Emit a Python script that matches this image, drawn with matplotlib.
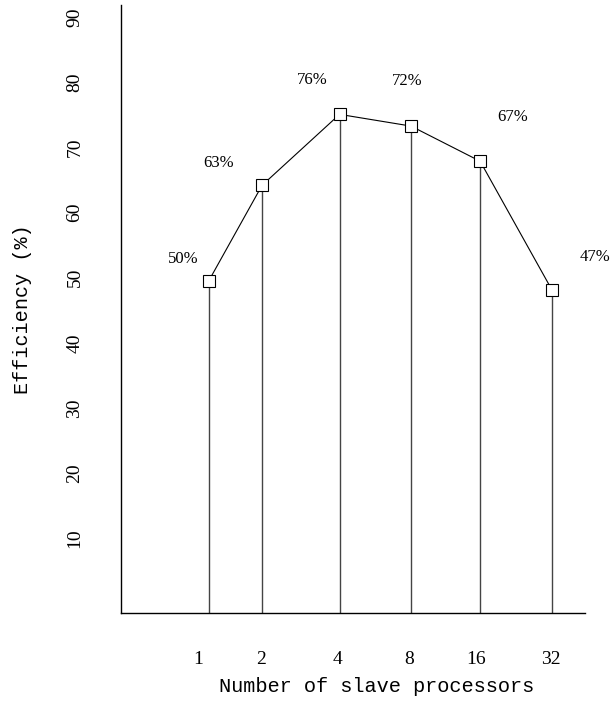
import matplotlib
matplotlib.use('Agg')
import matplotlib.pyplot as plt

# data
processors = ['1', '2', '4', '8', '16', '32']
efficiency = [49.5, 64.2, 75.1, 73.3, 67.9, 48.1]
labels = ['50%', '63%', '76%', '72%', '67%', '47%']

# layout: where each category sits along the x axis (axis runs 0..10)
xpos = [1.89, 3.04, 4.71, 6.25, 7.74, 9.29]
# small nudges of the category labels, in pixels
tick_dx = [-11, -1, -2, -2, -4, -1]
# offsets of the percentage labels from each point, in pixels
label_dx = [-25, -43, -27, -4, 32, 43]
label_dy = [22, 22, 34, 45, 44, 33]

serif = 'Liberation Serif'
mono = 'Liberation Mono'

fig = plt.figure(figsize=(6.1, 7.08), dpi=100)
ax = fig.add_axes([121 / 610, 95 / 708, 464 / 610, 608 / 708])

ymin, ymax = -1.5, 91.9
ax.vlines(xpos, ymin, efficiency, colors='#444444', linewidth=1.0, zorder=1)
ax.plot(xpos, efficiency, color='black', linewidth=0.8, marker='s',
        markersize=8, markerfacecolor='white', markeredgecolor='black',
        markeredgewidth=0.8, zorder=3)

for x, y, t, dx, dy in zip(xpos, efficiency, labels, label_dx, label_dy):
    ax.annotate(t, (x, y), xytext=(dx * 0.72, dy * 0.72),
                textcoords='offset points', ha='center', va='center',
                fontsize=12, family=serif)

# category labels under the axis
for x, t, dx in zip(xpos, processors, tick_dx):
    ax.annotate(t, (x, 0), xycoords=('data', 'axes fraction'),
                xytext=(dx * 0.72, -47 * 0.72), textcoords='offset points',
                ha='center', va='center', fontsize=14, family=serif)

ax.set_xlim(0, 10)
ax.set_ylim(ymin, ymax)
ax.set_xticks([])
ax.set_yticks(range(10, 100, 10))
ax.set_yticklabels([str(v) for v in range(10, 100, 10)], family=serif,
                   fontsize=14, rotation=90, va='center')
ax.tick_params(axis='both', length=0)
ax.tick_params(axis='y', pad=27)

for side in ['top', 'right']:
    ax.spines[side].set_visible(False)
for side in ['left', 'bottom']:
    ax.spines[side].set_linewidth(1.0)
    ax.spines[side].set_color('black')

ax.set_xlabel('Number of slave processors', family=mono, fontsize=14.6,
              va='center')
ax.xaxis.set_label_coords(256 / 464, -74 / 608)
ax.set_ylabel('Efficiency (%)', family=mono, fontsize=14.5, va='center')
ax.yaxis.set_label_coords(-98 / 464, 0.5)

fig.savefig('out.png', dpi=100)
